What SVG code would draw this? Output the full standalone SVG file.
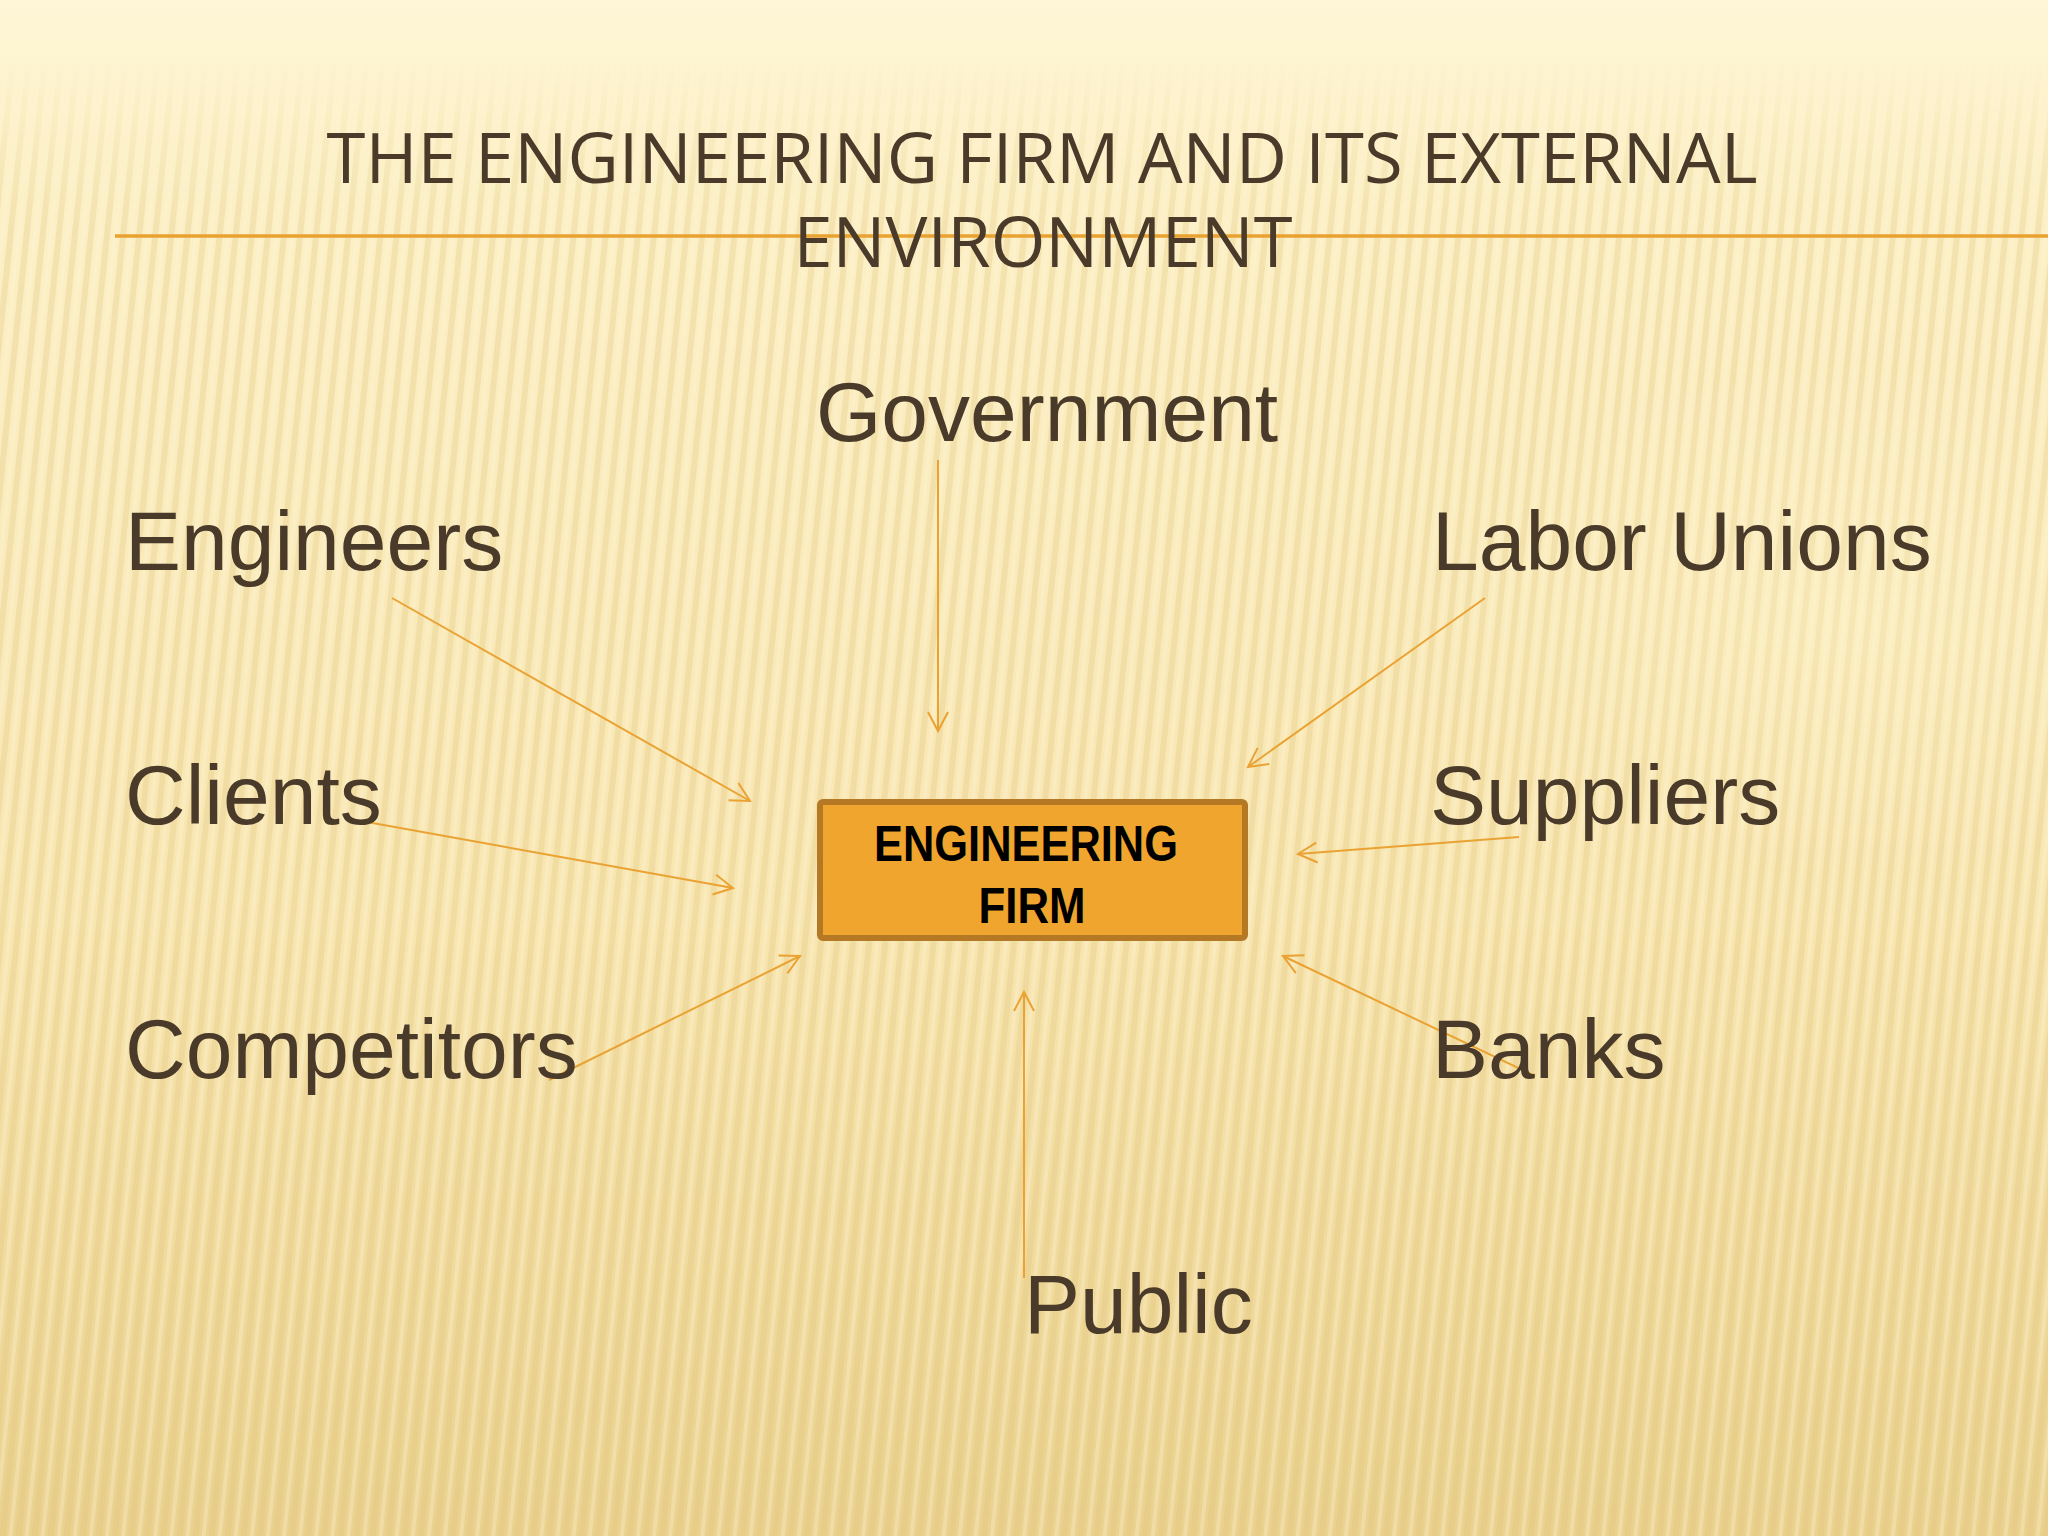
<svg xmlns="http://www.w3.org/2000/svg" width="2048" height="1536" viewBox="0 0 2048 1536">
<defs>
<style>
.lbl{font-family:"Liberation Sans",Arial,sans-serif;font-size:84px;fill:#4a3a2a}
.ttl{font-family:"Open Sans","Noto Sans",sans-serif;font-size:70px;fill:#4a3a2a;text-anchor:middle}
.box{font-family:"Liberation Sans",Arial,sans-serif;font-weight:bold;font-size:50px;fill:#000;text-anchor:middle}
.con{stroke:#eaa233;stroke-width:2;fill:none;marker-end:url(#arr)}
</style>
<linearGradient id="bg" x1="0" y1="0" x2="0" y2="1">
<stop offset="0" stop-color="#fef6d6"/>
<stop offset="0.12" stop-color="#fcf0c6"/>
<stop offset="0.6" stop-color="#f8e6b0"/>
<stop offset="1" stop-color="#ead18e"/>
</linearGradient>
<linearGradient id="fade" x1="0" y1="0" x2="0" y2="1">
<stop offset="0" stop-color="#000"/>
<stop offset="0.04" stop-color="#000"/>
<stop offset="0.15" stop-color="#fff"/>
<stop offset="1" stop-color="#fff"/>
</linearGradient>
<mask id="m"><rect width="2048" height="1536" fill="url(#fade)"/></mask>
<pattern id="stripes" width="16" height="40" patternUnits="userSpaceOnUse" patternTransform="rotate(6)">
<rect x="0" y="0" width="6" height="40" fill="#dcc07a" opacity="0.28"/>
<rect x="9" y="0" width="4" height="40" fill="#fff8dc" opacity="0.3"/>
</pattern>
<radialGradient id="glow" cx="0.5" cy="0.5" r="0.5">
<stop offset="0" stop-color="#fff6d0" stop-opacity="0.35"/>
<stop offset="1" stop-color="#fff6d0" stop-opacity="0"/>
</radialGradient>
<marker id="arr" markerUnits="userSpaceOnUse" markerWidth="30" markerHeight="30" viewBox="-24 -15 30 30" refX="0" refY="0" orient="auto">
<path d="M-19,-10 L0,0 L-19,10" fill="none" stroke="#eaa233" stroke-width="2"/>
</marker>
</defs>
<rect width="2048" height="1536" fill="url(#bg)"/>
<rect width="2048" height="1536" fill="url(#stripes)" mask="url(#m)"/>
<ellipse cx="1850" cy="620" rx="420" ry="260" fill="url(#glow)"/>
<g id="title">
<line x1="115" y1="236" x2="2048" y2="236" stroke="#e9a230" stroke-width="3.5"/>
<text class="ttl"><tspan x="1042" y="183" textLength="1431" lengthAdjust="spacingAndGlyphs">THE ENGINEERING FIRM AND ITS EXTERNAL</tspan><tspan x="1043" y="267" textLength="499" lengthAdjust="spacingAndGlyphs">ENVIRONMENT</tspan></text>
</g>
<g id="connectors">
<line class="con" x1="938" y1="460" x2="938" y2="731"/>
<line class="con" x1="392" y1="598" x2="750" y2="801"/>
<line class="con" x1="367" y1="822" x2="733" y2="888"/>
<line class="con" x1="549" y1="1080" x2="800" y2="956"/>
<line class="con" x1="1485" y1="598" x2="1248" y2="767"/>
<line class="con" x1="1519" y1="837" x2="1298" y2="854"/>
<line class="con" x1="1535" y1="1076" x2="1283" y2="956"/>
<line class="con" x1="1024" y1="1278" x2="1024" y2="992"/>
</g>
<g id="firm">
<rect x="820" y="802" width="425" height="136" rx="3" fill="#f0a52e" stroke="#b57824" stroke-width="6"/>
<text class="box" x="1026" y="861" textLength="304" lengthAdjust="spacingAndGlyphs">ENGINEERING</text>
<text class="box" x="1032" y="923" textLength="107" lengthAdjust="spacingAndGlyphs">FIRM</text>
</g>
<g id="government"><text class="lbl" x="816" y="441">Government</text></g>
<g id="engineers"><text class="lbl" x="125" y="570">Engineers</text></g>
<g id="labor-unions"><text class="lbl" x="1432" y="570">Labor Unions</text></g>
<g id="clients"><text class="lbl" x="125" y="824">Clients</text></g>
<g id="suppliers"><text class="lbl" x="1430" y="824">Suppliers</text></g>
<g id="competitors"><text class="lbl" x="125" y="1078">Competitors</text></g>
<g id="banks"><text class="lbl" x="1432" y="1078">Banks</text></g>
<g id="public"><text class="lbl" x="1024" y="1333">Public</text></g>
</svg>
